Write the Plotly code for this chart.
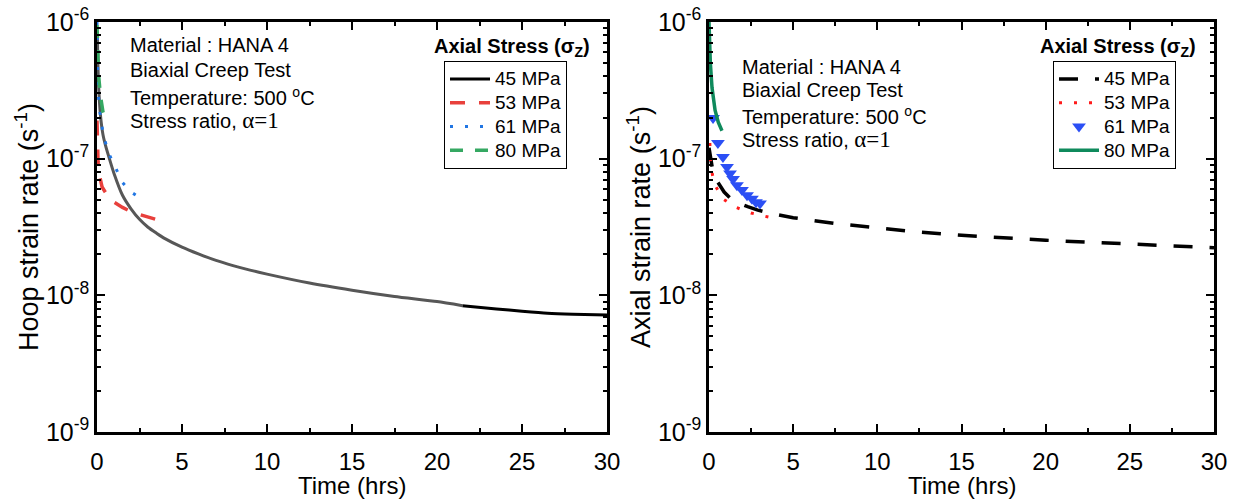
import plotly.graph_objects as go

# ---------------- data ----------------
# Hoop strain rate (left panel)
hoop_t_45 = [0.02, 0.05, 0.1, 0.2, 0.35, 0.5, 0.75, 1.0, 1.5, 2.0, 2.5, 3.0, 3.5, 4.0, 5.0, 6.0, 7.0,
             8.0, 9.0, 10.0, 12.5, 15.0, 17.5, 20.0, 21.5, 23.5, 25.0, 26.5, 28.0, 30.0]
hoop_r_45 = [8.5e-7, 5.0e-7, 3.3e-7, 2.1e-7, 1.5e-7, 1.25e-7, 9.8e-8, 7.8e-8, 5.4e-8, 4.3e-8, 3.6e-8,
             3.15e-8, 2.85e-8, 2.6e-8, 2.25e-8, 2.0e-8, 1.8e-8, 1.65e-8, 1.53e-8, 1.43e-8, 1.23e-8,
             1.09e-8, 9.8e-9, 9.0e-9, 8.4e-9, 7.95e-9, 7.65e-9, 7.4e-9, 7.28e-9, 7.18e-9]
hoop_t_53 = [0.0, 0.01, 0.03, 0.06, 0.12, 0.3, 0.6, 1.0, 1.5, 2.0, 2.5, 3.0, 3.5, 3.8]
hoop_r_53 = [1.9e-7, 1.55e-7, 1.15e-7, 9.5e-8, 7.8e-8, 6.2e-8, 5.4e-8, 4.8e-8, 4.4e-8, 4.1e-8,
             3.9e-8, 3.75e-8, 3.6e-8, 3.5e-8]
hoop_t_61 = [0.0, 0.02, 0.06, 0.18, 0.35, 0.65, 0.95, 1.5, 2.0, 2.5]
hoop_r_61 = [1.0e-6, 5.5e-7, 3.1e-7, 2.15e-7, 1.54e-7, 1.12e-7, 9.3e-8, 6.7e-8, 5.7e-8, 5.2e-8]
hoop_t_80 = [0.0, 0.02, 0.05, 0.1, 0.2, 0.35, 0.5]
hoop_r_80 = [9.5e-7, 7.5e-7, 5.2e-7, 4.0e-7, 2.9e-7, 2.2e-7, 1.95e-7]

# Axial strain rate (right panel)
axial_t_45 = [0.0, 0.1, 0.2, 0.5, 0.9, 1.3, 1.7, 2.3, 2.9, 3.6, 5.0, 7.5, 10.0, 12.5, 15.0, 17.5,
              20.0, 22.5, 25.0, 27.5, 30.0]
axial_r_45 = [1.2e-7, 9.8e-8, 8.5e-8, 6.8e-8, 5.7e-8, 5.1e-8, 4.75e-8, 4.45e-8, 4.2e-8, 4.0e-8,
              3.7e-8, 3.35e-8, 3.1e-8, 2.9e-8, 2.75e-8, 2.63e-8, 2.53e-8, 2.45e-8, 2.37e-8, 2.3e-8, 2.23e-8]
axial_t_53 = [0.05, 0.1, 0.3, 0.8, 1.6, 2.5, 3.7]
axial_r_53 = [1.3e-7, 9.0e-8, 6.6e-8, 5.1e-8, 4.4e-8, 4.0e-8, 3.7e-8]
axial_t_61 = [0.24, 0.53, 0.83, 1.07, 1.25, 1.43, 1.66, 1.96, 2.26, 2.55, 2.79, 3.03]
axial_r_61 = [1.98e-7, 1.30e-7, 1.03e-7, 8.7e-8, 7.8e-8, 7.1e-8, 6.4e-8, 5.9e-8, 5.4e-8, 5.1e-8, 4.8e-8, 4.7e-8]
axial_t_80 = [0.0, 0.03, 0.08, 0.18, 0.36, 0.55, 0.77]
axial_r_80 = [1.0e-6, 7.5e-7, 5.0e-7, 3.3e-7, 2.26e-7, 1.85e-7, 1.6e-7]

series_names = ["45 MPa", "53 MPa", "61 MPa", "80 MPa"]
x_ticks = [0, 5, 10, 15, 20, 25, 30]
y_tickvals = [1e-9, 1e-8, 1e-7, 1e-6]
y_ticktext = ["10<sup>-9</sup>", "10<sup>-8</sup>", "10<sup>-7</sup>", "10<sup>-6</sup>"]
info_lines = ["Material : HANA 4", "Biaxial Creep Test", "Temperature: 500 <sup>o</sup>C",
              "Stress ratio, <span style=\"font-family:Liberation Serif;font-size:23px\">α=1</span>"]

FONT = "Liberation Sans, Arial, sans-serif"


def lname(s):
    return "<span style='font-size:19px'>" + s + "</span>"


fig = go.Figure()

# ---- left panel ----
split = hoop_t_45.index(21.5)
fig.add_trace(go.Scatter(x=hoop_t_45[:split + 1], y=hoop_r_45[:split + 1], mode="lines",
                         line=dict(color="#575757", width=3, shape="spline", smoothing=0.6),
                         showlegend=False, xaxis="x", yaxis="y", legend="legend"))
fig.add_trace(go.Scatter(x=hoop_t_45[split:], y=hoop_r_45[split:], mode="lines", name=lname(series_names[0]),
                         line=dict(color="black", width=3, shape="spline", smoothing=0.6),
                         xaxis="x", yaxis="y", legend="legend"))
fig.add_trace(go.Scatter(x=hoop_t_53, y=hoop_r_53, mode="lines", name=lname(series_names[1]),
                         line=dict(color="#e8403c", width=3.5, dash="15px,14px"),
                         xaxis="x", yaxis="y", legend="legend"))
fig.add_trace(go.Scatter(x=hoop_t_61, y=hoop_r_61, mode="lines", name=lname(series_names[2]),
                         line=dict(color="#2176e3", width=3, dash="3px,12px"),
                         xaxis="x", yaxis="y", legend="legend"))
fig.add_trace(go.Scatter(x=hoop_t_80, y=hoop_r_80, mode="lines", name=lname(series_names[3]),
                         line=dict(color="#35a862", width=3.5, dash="13px,12px"),
                         xaxis="x", yaxis="y", legend="legend"))

# ---- right panel ----
fig.add_trace(go.Scatter(x=axial_t_45, y=axial_r_45, mode="lines", name=lname(series_names[0]),
                         line=dict(color="black", width=3.5, dash="19px,17px"),
                         xaxis="x2", yaxis="y2", legend="legend2"))
fig.add_trace(go.Scatter(x=axial_t_53, y=axial_r_53, mode="lines", name=lname(series_names[1]),
                         line=dict(color="#ff1a1a", width=3, dash="3px,12px"),
                         xaxis="x2", yaxis="y2", legend="legend2"))
fig.add_trace(go.Scatter(x=axial_t_61, y=axial_r_61, mode="markers", name=lname(series_names[2]),
                         marker=dict(symbol="triangle-down", color="#2b4ff5", size=12, line=dict(width=0)),
                         xaxis="x2", yaxis="y2", legend="legend2"))
fig.add_trace(go.Scatter(x=axial_t_80, y=axial_r_80, mode="lines", name=lname(series_names[3]),
                         line=dict(color="#0f8a5c", width=3.5),
                         xaxis="x2", yaxis="y2", legend="legend2"))

W, H = 1239, 501
ml, mt = 97, 22
mr = W - 1214
mb = H - 432
pw = W - ml - mr
ph = H - mt - mb


def px_x(p):
    return (p - ml) / pw


def px_y(p):
    return 1 - (p - mt) / ph


minor_y = [m * 10 ** e for e in (-9, -8, -7) for m in range(2, 10)]

common_x = dict(range=[0, 30], tickvals=x_ticks, ticks="inside", ticklen=8, tickwidth=2,
                tickcolor="black", showline=True, linewidth=2.5, linecolor="black", mirror="allticks",
                showgrid=False, zeroline=False, ticklabelstandoff=6,
                tickfont=dict(family=FONT, size=24, color="black"),
                minor=dict(dtick=2.5, tick0=0, ticks="inside", ticklen=4, tickwidth=2, tickcolor="black"))
common_y = dict(type="log", range=[-9, -6], tickvals=y_tickvals, ticktext=y_ticktext, ticks="inside",
                ticklen=8, tickwidth=2, tickcolor="black", showline=True, linewidth=2.5,
                linecolor="black", mirror="allticks", showgrid=False, zeroline=False,
                tickfont=dict(family=FONT, size=25, color="black"),
                minor=dict(tickvals=minor_y, ticks="inside", ticklen=4, tickwidth=2, tickcolor="black"))

legend_common = dict(xanchor="left", yanchor="top", bgcolor="white", bordercolor="black", borderwidth=1,
                     font=dict(family=FONT, size=16, color="black"), tracegroupgap=0, itemwidth=40)

dom1 = [0, px_x(607)]
dom2 = [px_x(709), 1]

fig.update_layout(
    width=W, height=H, template="none",
    margin=dict(l=ml, r=mr, t=mt, b=mb),
    paper_bgcolor="white", plot_bgcolor="white",
    font=dict(family=FONT, color="black"),
    xaxis=dict(common_x, domain=dom1, anchor="y"),
    yaxis=dict(common_y, domain=[0, 1], anchor="x",
               title=dict(text="Hoop strain rate (s<sup>-1</sup>)", standoff=0,
                          font=dict(family=FONT, size=27, color="black"))),
    xaxis2=dict(common_x, domain=dom2, anchor="y2"),
    yaxis2=dict(common_y, domain=[0, 1], anchor="x2",
                title=dict(text="Axial strain rate (s<sup>-1</sup>)", standoff=0,
                           font=dict(family=FONT, size=27, color="black"))),
    legend=dict(legend_common, x=px_x(444), y=px_y(61)),
    legend2=dict(legend_common, x=px_x(1053), y=px_y(61)),
)

annotations = []
# x-axis titles
for cx in ((97 + 607) / 2, (709 + 1214) / 2):
    annotations.append(dict(x=px_x(cx), y=px_y(486), xref="paper", yref="paper", xanchor="center",
                            yanchor="middle", showarrow=False, text="Time (hrs)",
                            font=dict(family=FONT, size=24, color="black")))
for right_px in (592, 1198):
    annotations.append(dict(x=px_x(right_px), y=px_y(47), xref="paper", yref="paper", xanchor="right",
                            yanchor="middle", showarrow=False,
                            text="<b>Axial Stress (σ<sub>Z</sub>)</b>",
                            font=dict(family=FONT, size=20, color="black")))
left_rows = [45, 70, 97, 120]
right_rows = [67, 90, 116, 139]
for text, yl, yr in zip(info_lines, left_rows, right_rows):
    annotations.append(dict(x=px_x(128), y=px_y(yl), xref="paper", yref="paper", xanchor="left",
                            yanchor="middle", showarrow=False, text=text,
                            font=dict(family=FONT, size=20, color="black")))
    annotations.append(dict(x=px_x(740), y=px_y(yr), xref="paper", yref="paper", xanchor="left",
                            yanchor="middle", showarrow=False, text=text,
                            font=dict(family=FONT, size=20, color="black")))
fig.update_layout(annotations=annotations)

# remove the browser's default page margin so the figure sits at the window origin
fig.write_html("out.html", config={"displayModeBar": False},
               post_script="document.body.style.margin='0px';")
